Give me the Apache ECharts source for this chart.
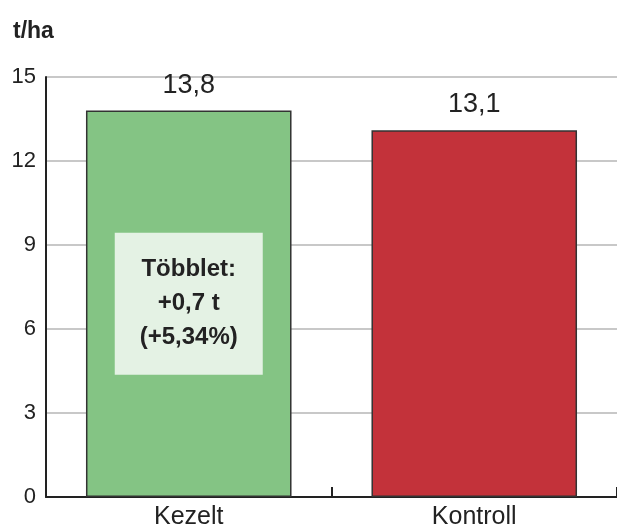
<!DOCTYPE html>
<html>
<head>
<meta charset="utf-8">
<script src="https://cdn.jsdelivr.net/npm/echarts@6/dist/echarts.min.js"></script>
<style>
  html, body { margin: 0; padding: 0; background: #fff; }
  #chart { width: 617px; height: 530px; }
</style>
</head>
<body>
<div id="chart"></div>
<script>
// adatok
var categories = ["Kezelt", "Kontroll"];
var yields = [13.8, 13.1];
var barColors = ["#84c484", "#c3323a"];
var unitLabel = "t/ha";
var noteText = "Többlet:\n+0,7 t\n(+5,34%)";
var notePos = ["Kezelt", 6.9];

var chart = echarts.init(document.getElementById("chart"));
var font = "Liberation Sans, Arial, sans-serif";

var option = {
  animation: false,
  textStyle: { fontFamily: font },
  title: {
    text: unitLabel,
    left: 8,
    top: 15,
    textStyle: { fontSize: 23, fontWeight: "bold", color: "#222", fontFamily: font },
  },
  grid: { left: 46, right: 0, top: 77, bottom: 33 },
  xAxis: {
    type: "category",
    data: categories,
    axisLine: { lineStyle: { color: "#222", width: 2 } },
    axisTick: { show: true, inside: true, length: 10, lineStyle: { color: "#222", width: 2 } },
    axisLabel: { fontSize: 25, color: "#222", margin: 8 },
  },
  yAxis: {
    type: "value",
    min: 0,
    max: 15,
    interval: 3,
    axisLine: { show: true, lineStyle: { color: "#222", width: 2 } },
    axisTick: { show: false },
    axisLabel: { fontSize: 22, color: "#222", margin: 10 },
    splitLine: { lineStyle: { color: "#c8c8c8", width: 2 } },
  },
  series: [
    {
      type: "bar",
      barWidth: "72%",
      data: yields.map(function (v, i) {
        return { value: v, itemStyle: { color: barColors[i] } };
      }),
      itemStyle: { borderColor: "#333", borderWidth: 1.5 },
      label: {
        show: true,
        position: "top",
        distance: 12,
        fontSize: 27,
        color: "#222",
        formatter: function (p) {
          return String(p.value).replace(".", ",");
        },
      },
      markPoint: {
        symbol: "rect",
        symbolSize: [148, 142],
        itemStyle: { color: "#e4f2e4", borderWidth: 0 },
        label: {
          show: true,
          position: "inside",
          fontSize: 24,
          fontWeight: "bold",
          lineHeight: 34,
          color: "#222",
          formatter: noteText,
        },
        data: [{ coord: notePos }],
      },
    },
  ],
};

chart.setOption(option);
</script>
</body>
</html>
